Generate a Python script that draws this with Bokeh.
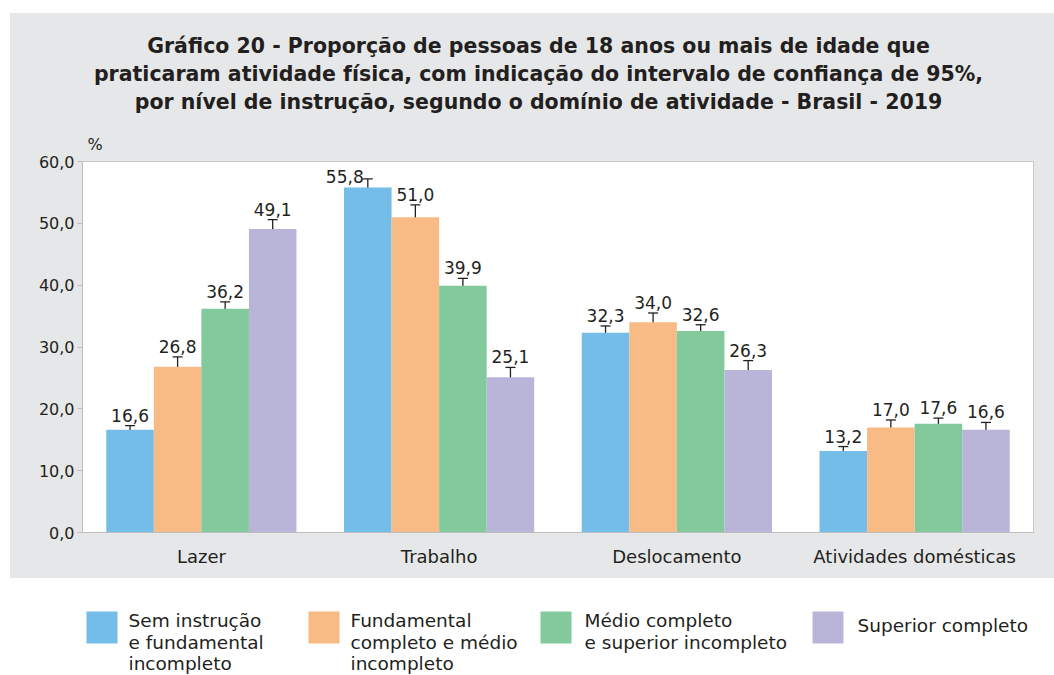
from bokeh.plotting import figure
from bokeh.models import (Range1d, FixedTicker, ColumnDataSource, Whisker, TeeHead,
                          LabelSet)
from bokeh.layouts import column
from bokeh.core.properties import value
from bokeh.embed import file_html
from bokeh.resources import INLINE

# ---------------- data ----------------
categories = ["Lazer", "Trabalho", "Deslocamento", "Atividades domésticas"]
series_names = ["Sem instrução\ne fundamental\nincompleto",
                "Fundamental\ncompleto e médio\nincompleto",
                "Médio completo\ne superior incompleto",
                "Superior completo"]
sem_instrucao = [16.6, 55.8, 32.3, 13.2]
fundamental = [26.8, 51.0, 34.0, 17.0]
medio = [36.2, 39.9, 32.6, 17.6]
superior = [49.1, 25.1, 26.3, 16.6]
sem_instrucao_lo = [15.9, 54.3, 31.2, 12.5]
sem_instrucao_hi = [17.3, 57.2, 33.4, 13.9]
fundamental_lo = [25.3, 48.9, 32.4, 15.9]
fundamental_hi = [28.4, 53.0, 35.5, 18.2]
medio_lo = [35.0, 38.7, 31.6, 16.7]
medio_hi = [37.3, 41.1, 33.6, 18.5]
superior_lo = [47.6, 23.5, 24.7, 15.4]
superior_hi = [50.6, 26.7, 27.8, 17.8]
y_ticks = [0, 10, 20, 30, 40, 50, 60]
y_tick_labels = ["0,0", "10,0", "20,0", "30,0", "40,0", "50,0", "60,0"]
title_lines = ["Gráfico 20 - Proporção de pessoas de 18 anos ou mais de idade que",
               "praticaram atividade física, com indicação do intervalo de confiança de 95%,",
               "por nível de instrução, segundo o domínio de atividade - Brasil - 2019"]
unit_label = "%"

values_all = [sem_instrucao, fundamental, medio, superior]
lows_all = [sem_instrucao_lo, fundamental_lo, medio_lo, superior_lo]
highs_all = [sem_instrucao_hi, fundamental_hi, medio_hi, superior_hi]

# ---------------- styles ----------------
colors = ["#74bde8", "#f9bb86", "#82ca9c", "#b9b5d9"]
panel_gray = "#e6e7e8"
text_color = "#231f20"
axis_gray = "#bdbdbd"
font = "DejaVu Sans"
bar_w = 0.2
FIG_W = 1044
BL, BR = 72, 21          # left / right borders shared by all stacked figures
FX0, FX1 = 82, 1033      # frame extent in page pixels


def blank_panel(height, fill, margin):
    f = figure(width=FIG_W, height=height, x_range=Range1d(FX0, FX1),
               y_range=Range1d(0, height), output_backend="svg",
               toolbar_location=None, min_border_left=BL, min_border_right=BR,
               min_border_top=0, min_border_bottom=0,
               x_axis_type=None, y_axis_type=None, margin=margin,
               styles={"background-color": fill})
    f.xgrid.visible = False
    f.ygrid.visible = False
    f.outline_line_color = None
    f.background_fill_color = fill
    f.border_fill_color = fill
    return f


# ---------------- header (title + unit) ----------------
HH = 140
hdr = blank_panel(HH, panel_gray, (13, 0, 0, 10))
hdr.text(x=[538] * len(title_lines), y=[108, 80, 52], text=title_lines,
         text_align="center", text_baseline="middle", text_font=value(font),
         text_font_style="bold", text_font_size="20.5px", text_color=text_color)
hdr.text(x=[87], y=[9], text=[unit_label], text_align="left", text_baseline="middle",
         text_font=value(font), text_font_size="16px", text_color=text_color)

# ---------------- main chart ----------------
p = figure(width=FIG_W, height=425, x_range=Range1d(0, 4), y_range=Range1d(0, 60),
           output_backend="svg", toolbar_location=None,
           min_border_left=BL, min_border_right=BR, min_border_top=8,
           min_border_bottom=46, margin=(0, 0, 0, 10),
           styles={"background-color": panel_gray})
p.border_fill_color = panel_gray
p.background_fill_color = "white"
p.outline_line_color = "#c8c8c8"
p.xgrid.visible = False
p.ygrid.visible = False

p.xaxis.ticker = FixedTicker(ticks=[i + 0.5 for i in range(len(categories))])
p.xaxis.major_label_overrides = {i + 0.5: c for i, c in enumerate(categories)}
p.xaxis.major_tick_line_color = None
p.xaxis.minor_tick_line_color = None
p.xaxis.axis_line_color = axis_gray
p.xaxis.major_label_text_font = font
p.xaxis.major_label_text_font_size = "18px"
p.xaxis.major_label_text_color = text_color
p.xaxis.major_label_standoff = 7

p.yaxis.ticker = FixedTicker(ticks=y_ticks)
p.yaxis.major_label_overrides = {t: l for t, l in zip(y_ticks, y_tick_labels)}
p.yaxis.major_tick_out = 5
p.yaxis.major_tick_in = 0
p.yaxis.major_tick_line_color = axis_gray
p.yaxis.minor_tick_line_color = None
p.yaxis.axis_line_color = axis_gray
p.yaxis.major_label_text_font = font
p.yaxis.major_label_text_font_size = "16px"
p.yaxis.major_label_text_color = text_color
p.yaxis.major_label_standoff = 3

for j, (vals, lo, hi) in enumerate(zip(values_all, lows_all, highs_all)):
    xs = [i + 0.5 + (j - 1.5) * bar_w for i in range(len(categories))]
    labels = [f"{v:.1f}".replace(".", ",") for v in vals]
    xoff = [0] * len(vals)
    yoff = [4] * len(vals)
    if j == 0:
        xoff[1] = -23
        yoff[1] = -4
    src = ColumnDataSource(dict(x=xs, top=vals, lower=lo, upper=hi, label=labels,
                                xoff=xoff, yoff=yoff))
    p.vbar(x="x", top="top", width=bar_w, bottom=0, source=src,
           fill_color=colors[j], line_color=None)
    w = Whisker(base="x", lower="lower", upper="upper", source=src,
                line_color=text_color, line_width=1.3,
                upper_head=TeeHead(size=10, line_color=text_color, line_width=1.3),
                lower_head=TeeHead(size=10, line_color=text_color, line_width=1.3))
    p.add_layout(w)
    ls = LabelSet(x="x", y="upper", text="label", source=src, x_offset="xoff",
                  y_offset="yoff", text_align="center", text_baseline="alphabetic",
                  text_font=value(font), text_font_size="17px", text_color=text_color)
    p.add_layout(ls)

# ---------------- legend ----------------
LH = 97
leg = blank_panel(LH, "white", (0, 0, 0, 10))
sw_left = [86, 308, 540, 812]
txt_left = [128, 350, 584, 857]
leg.quad(left=sw_left, right=[s + 31 for s in sw_left], bottom=32, top=64,
         fill_color=colors, line_color=None)
for j, name in enumerate(series_names):
    lines = name.split("\n")
    ys = [55, 33, 12] if len(lines) > 1 else [50]
    leg.text(x=[txt_left[j]] * len(lines), y=ys[:len(lines)], text=lines,
             text_align="left", text_baseline="middle", text_font=value(font),
             text_font_size="18.5px", text_color=text_color)

layout = column(hdr, p, leg, spacing=0)
open("out.html", "w").write(file_html(layout, INLINE))
